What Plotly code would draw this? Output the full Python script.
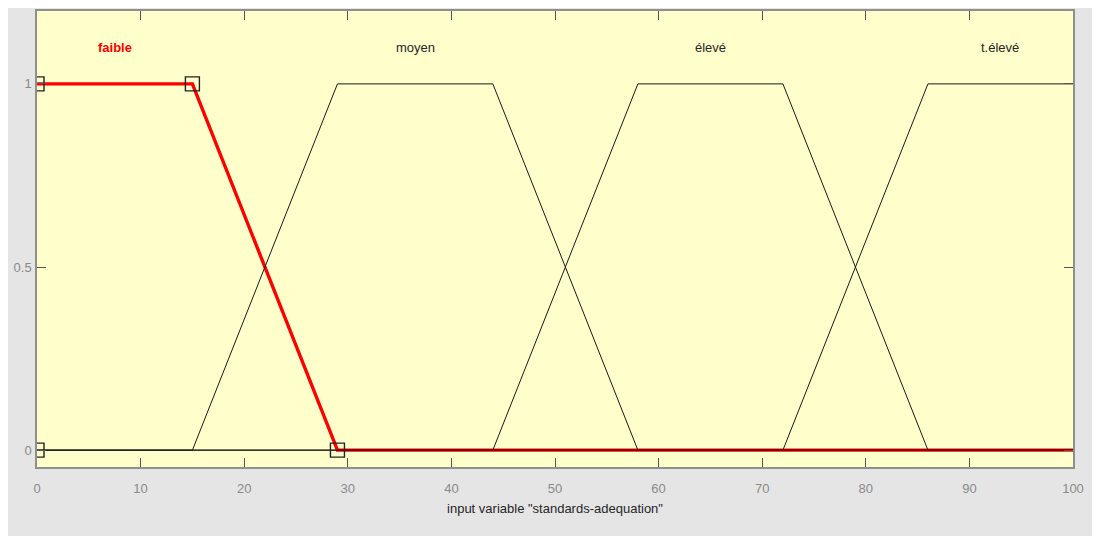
import plotly.graph_objects as go

# ---- data ----
mf_names = ["faible", "moyen", "élevé", "t.élevé"]
mf_params = [
    [0, 0, 15, 29],
    [15, 29, 44, 58],
    [44, 58, 72, 86],
    [72, 86, 100, 100],
]
selected = "faible"
x_range = [0, 100]
y_range = [-0.046, 1.199]
x_ticks = [0, 10, 20, 30, 40, 50, 60, 70, 80, 90, 100]
y_ticks = [0, 0.5, 1]
y_tick_labels = ["0", "0.5", "1"]
x_title = 'input variable "standards-adequation"'
label_y = 1.1

W, H = 1092, 528
ML, MR, MT, MB = 29, 27, 1, 69

fig = go.Figure()


def trap_xy(p):
    a, b, c, d = p
    xs, ys = [], []
    if a > x_range[0]:
        xs += [x_range[0], a]
        ys += [0, 0]
    elif b > a:
        xs += [a]
        ys += [0]
    xs += [b, c]
    ys += [1, 1]
    if d > c:
        xs += [d]
        ys += [0]
        if d < x_range[1]:
            xs += [x_range[1]]
            ys += [0]
    return xs, ys


# selected MF first (red, thick)
for name, p in zip(mf_names, mf_params):
    if name == selected:
        xs, ys = trap_xy(p)
        fig.add_trace(go.Scatter(x=xs, y=ys, mode="lines",
                                 line=dict(color="#ff0000", width=3.4),
                                 showlegend=False, hoverinfo="skip"))

# other MFs (thin black)
for name, p in zip(mf_names, mf_params):
    if name != selected:
        xs, ys = trap_xy(p)
        fig.add_trace(go.Scatter(x=xs, y=ys, mode="lines",
                                 line=dict(color="#1a1a1a", width=1),
                                 showlegend=False, hoverinfo="skip"))

# dark center + vertex markers on selected
for name, p in zip(mf_names, mf_params):
    if name == selected:
        a, b, c, d = p
        fig.add_trace(go.Scatter(x=[d, x_range[1]], y=[0, 0], mode="lines",
                                 line=dict(color="#7a0000", width=1.2),
                                 showlegend=False, hoverinfo="skip"))
        fig.add_trace(go.Scatter(x=[a, b, c, d], y=[0, 1, 1, 0], mode="markers",
                                 marker=dict(symbol="square-open", size=14,
                                             color="#222222",
                                             line=dict(width=1.4, color="#222222")),
                                 showlegend=False, hoverinfo="skip"))

# labels
for name, p in zip(mf_names, mf_params):
    lx = (p[1] + p[2]) / 2
    is_sel = name == selected
    fig.add_annotation(x=lx, y=label_y, text=f"<b>{name}</b>" if is_sel else name,
                       showarrow=False, xanchor="center", yanchor="middle",
                       font=dict(family="Liberation Sans, Arial, sans-serif", size=13,
                                 color="#ff0000" if is_sel else "#262626"))

axis_font = dict(family="Liberation Sans, Arial, sans-serif", size=13, color="#8a8a8a")
fig.update_layout(
    width=W, height=H,
    margin=dict(l=ML, r=MR, t=MT, b=MB, pad=0),
    paper_bgcolor="#e5e5e5",
    plot_bgcolor="#ffffcc",
    xaxis=dict(range=x_range, tickvals=x_ticks, ticks="inside", ticklen=9,
               tickcolor="#555555", showgrid=False, zeroline=False,
               showline=True, linecolor="#8f8f8f", linewidth=1.5, mirror="allticks",
               tickfont=axis_font, fixedrange=True, ticklabelstandoff=9,
               title=dict(text=x_title, standoff=9,
                          font=dict(family="Liberation Sans, Arial, sans-serif",
                                    size=13, color="#262626"))),
    yaxis=dict(range=y_range, tickvals=y_ticks, ticktext=y_tick_labels,
               ticks="inside", ticklen=9, tickcolor="#555555", showgrid=False,
               zeroline=False, showline=True, linecolor="#8f8f8f", linewidth=1.5,
               mirror="allticks", tickfont=axis_font, fixedrange=True,
               ticklabelstandoff=1),
)

fig.write_html("out.html")
